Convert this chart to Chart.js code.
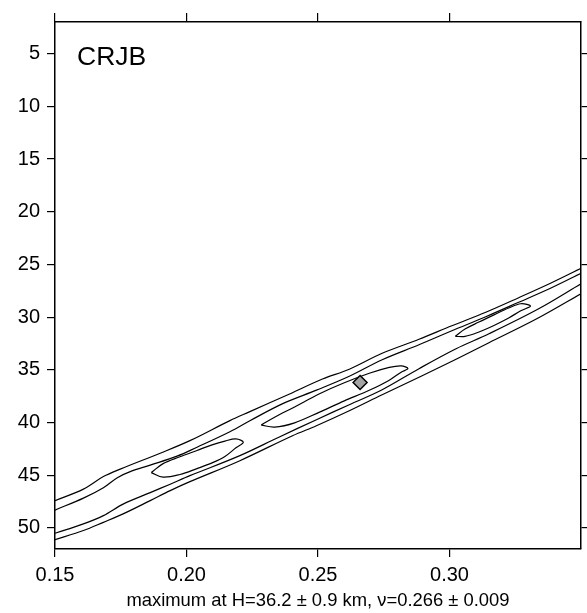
<!DOCTYPE html>
<html>
<head>
<meta charset="utf-8">
<script src="https://cdn.jsdelivr.net/npm/chart.js@4.4.0/dist/chart.umd.min.js"></script>
<style>
    html, body { margin: 0; padding: 0; background: #fff; overflow: hidden; }
    canvas { display: block; }
</style>
</head>
<body>
<canvas id="chart" width="587" height="613"></canvas>
<script>
const stationName = 'CRJB';
const footNote = 'maximum at H=36.2 ± 0.9 km, ν=0.266 ± 0.009';

const xTicks = [0.15, 0.20, 0.25, 0.30];
const yTicks = [5, 10, 15, 20, 25, 30, 35, 40, 45, 50];

// best fit point (nu, H)
const bestFit = [0.266, 36.2];

// contour lines, [nu, H]
const outerTop = [
    [0.150, 47.41], [0.1608, 46.32], [0.1684, 45.13], [0.1748, 44.42], [0.1900, 42.91],
    [0.2013, 41.72], [0.2165, 39.82], [0.2241, 38.97], [0.2392, 37.29], [0.2517, 35.87],
    [0.2619, 34.94], [0.2744, 33.43], [0.2884, 32.10], [0.3009, 30.82], [0.3138, 29.54],
    [0.3263, 28.16], [0.3388, 26.74], [0.350, 25.37]
];
const middleTop = [
    [0.150, 48.31], [0.1608, 47.17], [0.1684, 46.18], [0.1737, 45.23], [0.1786, 44.66],
    [0.1862, 44.04], [0.1964, 43.19], [0.2040, 42.34], [0.2165, 40.87], [0.2241, 39.83],
    [0.2366, 38.21], [0.2494, 36.93], [0.2619, 35.61], [0.2744, 34.04], [0.2884, 32.62],
    [0.3009, 31.29], [0.3138, 29.96], [0.3263, 28.59], [0.3388, 27.21], [0.350, 25.84]
];
const middleBottom = [
    [0.150, 50.51], [0.1608, 49.62], [0.1684, 48.83], [0.1759, 47.74], [0.1862, 46.65],
    [0.1938, 45.85], [0.2013, 45.04], [0.2203, 43.14], [0.2347, 41.44], [0.2494, 39.73],
    [0.2619, 38.31], [0.2744, 36.89], [0.2884, 34.89], [0.3025, 33.00], [0.3150, 31.58],
    [0.3339, 29.21], [0.350, 26.84]
];
const outerBottom = [
    [0.150, 51.11], [0.1608, 50.25], [0.1684, 49.47], [0.1759, 48.67], [0.1862, 47.41],
    [0.1938, 46.46], [0.2013, 45.61], [0.2203, 43.62], [0.2403, 41.25], [0.2494, 40.30],
    [0.2619, 38.88], [0.2744, 37.36], [0.2896, 35.56], [0.3025, 33.99], [0.3150, 32.43],
    [0.3339, 30.06], [0.350, 27.78]
];
const innerA = [
    [0.1866, 44.75], [0.1911, 43.90], [0.1975, 43.25], [0.2040, 42.65], [0.2097, 42.12],
    [0.2146, 41.76], [0.2188, 41.55], [0.2216, 41.88], [0.2188, 42.40], [0.2146, 43.22],
    [0.2097, 43.83], [0.2040, 44.37], [0.1975, 44.93], [0.1911, 45.18], [0.1866, 44.75]
];
const innerB = [
    [0.2284, 40.24], [0.2335, 39.50], [0.2411, 38.52], [0.2506, 37.27], [0.2600, 36.23],
    [0.2695, 35.33], [0.2771, 34.77], [0.2816, 34.62], [0.2842, 34.88], [0.2816, 35.22],
    [0.2771, 35.98], [0.2695, 36.94], [0.2600, 37.95], [0.2506, 39.01], [0.2411, 40.03],
    [0.2335, 40.43], [0.2284, 40.24]
];
const innerC = [
    [0.3022, 31.82], [0.3059, 31.13], [0.3112, 30.47], [0.3169, 29.79], [0.3225, 29.14],
    [0.3271, 28.73], [0.3308, 28.95], [0.3271, 29.40], [0.3225, 30.08], [0.3169, 30.79],
    [0.3112, 31.41], [0.3059, 31.83], [0.3022, 31.82]
];

const fontFamily = '"Liberation Sans", Arial, Helvetica, sans-serif';

function contour(pts) {
    return {
        data: pts.map(p => ({ x: p[0], y: p[1] })),
        showLine: true,
        borderColor: '#000',
        borderWidth: 1.2,
        pointRadius: 0,
        tension: 0.35,
        fill: false
    };
}

const setTicks = (list) => (scale) => {
    scale.ticks = list.map(v => ({ value: v }));
};

// fixed axis box size, no extra label padding
const fixSize = (w, h) => (scale) => {
    if (w != null) scale.width = w;
    if (h != null) scale.height = h;
    scale.paddingLeft = 0;
    scale.paddingRight = 0;
    scale.paddingTop = 0;
    scale.paddingBottom = 0;
};

const stationLabel = {
    id: 'stationLabel',
    afterDraw(chart) {
        const ctx = chart.ctx;
        ctx.save();
        ctx.font = '26.5px ' + fontFamily;
        ctx.fillStyle = '#000';
        ctx.textBaseline = 'alphabetic';
        ctx.fillText(stationName, 77, 65);
        ctx.restore();
    }
};

const frame = { display: true, color: '#000', width: 1.5 };

new Chart(document.getElementById('chart'), {
    type: 'scatter',
    data: {
        datasets: [
            {
                data: [{ x: bestFit[0], y: bestFit[1] }],
                pointStyle: 'rectRot',
                pointRadius: 7,
                backgroundColor: '#a3a3a3',
                borderColor: '#000',
                borderWidth: 1.5
            },
            contour(outerTop),
            contour(middleTop),
            contour(middleBottom),
            contour(outerBottom),
            contour(innerA),
            contour(innerB),
            contour(innerC)
        ]
    },
    options: {
        responsive: false,
        animation: false,
        events: [],
        layout: { padding: 0, autoPadding: false },
        plugins: { legend: { display: false }, tooltip: { enabled: false } },
        scales: {
            x: {
                type: 'linear', position: 'bottom', min: 0.15, max: 0.35,
                afterBuildTicks: setTicks(xTicks),
                afterFit: fixSize(null, 64),
                border: frame,
                grid: { drawOnChartArea: false, tickLength: 8, color: '#000', lineWidth: 1.2 },
                ticks: {
                    color: '#000', padding: 6, maxRotation: 0,
                    font: { family: fontFamily, size: 20 },
                    callback: (v) => v.toFixed(2)
                },
                title: {
                    display: true, text: footNote, color: '#000',
                    font: { family: fontFamily, size: 18.4 },
                    padding: { top: 0, bottom: 1 }
                }
            },
            x2: {
                type: 'linear', position: 'top', min: 0.15, max: 0.35,
                afterBuildTicks: setTicks(xTicks),
                afterFit: fixSize(null, 22),
                border: frame,
                grid: { drawOnChartArea: false, tickLength: 9, color: '#000', lineWidth: 1.2 },
                ticks: { display: false }
            },
            y: {
                type: 'linear', position: 'left', min: 2, max: 52, reverse: true,
                afterBuildTicks: setTicks(yTicks),
                afterFit: fixSize(55, null),
                border: frame,
                grid: { drawOnChartArea: false, tickLength: 8, color: '#000', lineWidth: 1.2 },
                ticks: {
                    color: '#000', padding: 7,
                    font: { family: fontFamily, size: 20 }
                }
            },
            y2: {
                type: 'linear', position: 'right', min: 2, max: 52, reverse: true,
                afterBuildTicks: setTicks(yTicks),
                afterFit: fixSize(6, null),
                border: frame,
                grid: { drawOnChartArea: false, tickLength: 8, color: '#000', lineWidth: 1.2 },
                ticks: { display: false }
            }
        }
    },
    plugins: [stationLabel]
});
</script>
</body>
</html>
